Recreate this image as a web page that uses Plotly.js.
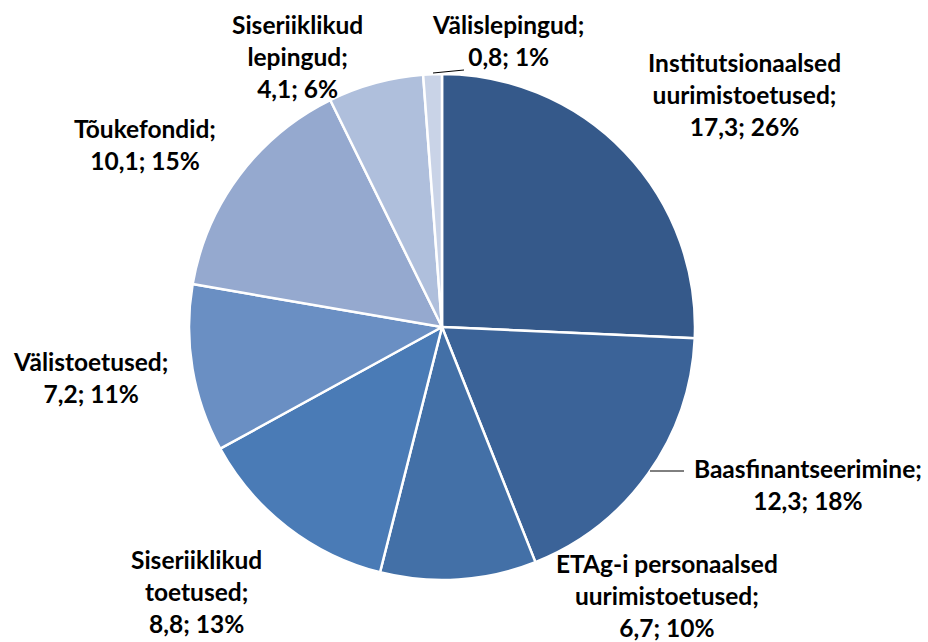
<!DOCTYPE html>
<html><head><meta charset="utf-8">
<script src="https://cdn.plot.ly/plotly-3.0.1.min.js"></script>
<style>html,body{margin:0;padding:0;background:#fff;}#chart{width:928px;height:642px;}</style>
</head><body><div id="chart"></div>
<script>
const labels = ["Institutsionaalsed uurimistoetused", "Baasfinantseerimine", "ETAg-i personaalsed uurimistoetused", "Siseriiklikud toetused", "Välistoetused", "Tõukefondid", "Siseriiklikud lepingud", "Välislepingud"];
const labelLines = ["Institutsionaalsed<br>uurimistoetused;", "Baasfinantseerimine;", "ETAg-i personaalsed<br>uurimistoetused;", "Siseriiklikud<br>toetused;", "Välistoetused;", "Tõukefondid;", "Siseriiklikud<br>lepingud;", "Välislepingud;"];
const values = [17.3, 12.3, 6.7, 8.8, 7.2, 10.1, 4.1, 0.8];
const colors = ["#35598a", "#3b6398", "#4370a7", "#4a7bb6", "#6a8fc3", "#95a9cf", "#afbfdc", "#c9d3e7"];

const W = 928, H = 642;
const cx = 442, cy = 327, r = 253;
// label anchor positions (pixels) for each slice label
const labelPos = [[744, 95], [808, 484], [667, 595], [196, 591], [90, 377], [145, 145], [297, 56], [508, 40]];

const total = values.reduce((a, b) => a + b, 0);
const fmt = v => v.toFixed(1).replace('.', ',');
const annotations = labels.map((l, i) => ({
  xref: 'paper', yref: 'paper',
  x: labelPos[i][0] / W, y: 1 - labelPos[i][1] / H,
  xanchor: 'center', yanchor: 'middle',
  text: '<b>' + labelLines[i] + '<br>' + fmt(values[i]) + '; ' + Math.round(values[i] / total * 100) + '%</b>',
  showarrow: false,
  font: {family: 'Lato, "Open Sans", sans-serif', size: 24.5, color: '#000'},
  align: 'center'
}));

const lineShape = (x0, y0, x1, y1) => ({
  type: 'line', xref: 'paper', yref: 'paper',
  x0: x0 / W, y0: 1 - y0 / H, x1: x1 / W, y1: 1 - y1 / H,
  line: {color: '#000', width: 1}
});

const data = [{
  type: 'pie',
  labels: labels,
  values: values,
  sort: false,
  direction: 'clockwise',
  rotation: 0,
  textinfo: 'none',
  hoverinfo: 'none',
  marker: {colors: colors, line: {color: '#ffffff', width: 2.5}},
  domain: {x: [(cx - r) / W, (cx + r) / W], y: [(H - cy - r) / H, (H - cy + r) / H]},
  showlegend: false
}];

const layout = {
  width: W, height: H,
  margin: {l: 0, r: 0, t: 0, b: 0},
  paper_bgcolor: '#fff',
  showlegend: false,
  annotations: annotations,
  shapes: [lineShape(433, 73, 464, 70), lineShape(650, 471, 684, 471)]
};

Plotly.newPlot('chart', data, layout, {displayModeBar: false, staticPlot: true});
</script>
</body></html>
